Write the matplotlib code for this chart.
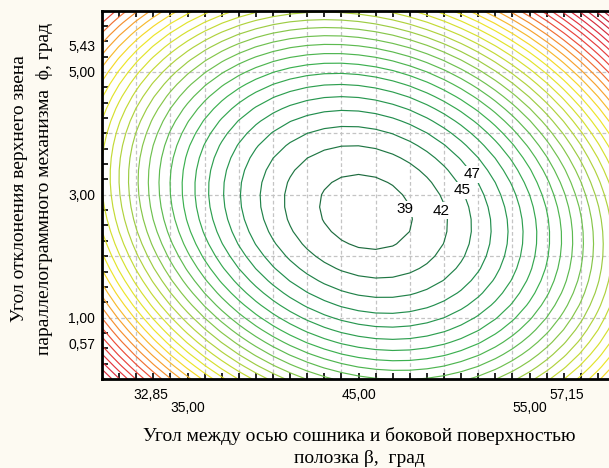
import numpy as np
import matplotlib
matplotlib.use('Agg')
import matplotlib.pyplot as plt
from matplotlib.colors import LinearSegmentedColormap, Normalize
from matplotlib.transforms import blended_transform_factory

# response surface:
# z = z_min + a_beta*(b-b0)^2 + a_phi*(f-f0)^2 + a_cross*(b-b0)*(f-f0)
z_min = 38.0
beta_0 = 46.43
phi_0 = 2.72
a_beta = 0.178
a_phi = 3.5
a_cross = 0.27

beta_lim = [31, 61]
phi_lim = [0, 6]
grid_n = 31

# contour levels (Statistica style: first level + fixed step)
level_first = 39.3
level_step = 2.67
n_levels = 34

# labelled contours and where the labels sit
label_levels = [0, 1, 2, 3]
label_x = [48.72, 50.82, 52.05, 52.64]
label_y = [2.77, 2.74, 3.07, 3.33]

x_tick_vals = [32.85, 35.00, 45.00, 55.00, 57.15]
x_tick_row = [0, 1, 0, 1, 0]
y_tick_vals = [0.57, 1.00, 3.00, 5.00, 5.43]

x_grid = [33, 35, 37, 39, 41, 43, 45, 47, 49, 51, 53, 55, 57, 59]
y_grid = [1, 2, 3, 4, 5]

xlabel = 'Угол между осью сошника и боковой поверхностью\nполозка β,  град'
ylabel = 'Угол отклонения верхнего звена\nпараллелограммного механизма  ϕ, град'

# colour of the contour line by its value
color_z = [39, 48, 58, 66, 73, 79, 86, 91, 96, 101, 111, 127.4]
color_hex = ['#1d6b3e', '#239150', '#3cb050', '#70c050', '#aad040', '#d4e030',
             '#f4e828', '#f8b030', '#f58a30', '#ec4a3a', '#e03040', '#b02038']

sans = ['Liberation Sans', 'DejaVu Sans']
serif = ['Liberation Serif', 'DejaVu Serif']


def fmt(v):
    return f'{v:.2f}'.replace('.', ',')


beta = np.linspace(beta_lim[0], beta_lim[1], grid_n)
phi = np.linspace(phi_lim[0], phi_lim[1], grid_n)
B, F = np.meshgrid(beta, phi)
db = B - beta_0
df = F - phi_0
Z = z_min + a_beta * db ** 2 + a_phi * df ** 2 + a_cross * db * df

levels = level_first + level_step * np.arange(n_levels)

zlo, zhi = levels[0], levels[-1]
pos = np.clip((np.array(color_z) - zlo) / (zhi - zlo), 0, 1)
pos[0], pos[-1] = 0.0, 1.0
cmap = LinearSegmentedColormap.from_list('gyr', list(zip(pos, color_hex)))

fig = plt.figure(figsize=(6.09, 4.68), dpi=100, facecolor='#fdfaf2')
ax = fig.add_axes([102 / 609, 89 / 468, 513 / 609, 368.5 / 468])
ax.set_facecolor('white')

for gx in x_grid:
    ax.axvline(gx, color='#c4c4c4', lw=0.9, ls=(0, (3, 2)), zorder=0.5)
for gy in y_grid:
    ax.axhline(gy, color='#c4c4c4', lw=0.9, ls=(0, (3, 2)), zorder=0.5)

cs = ax.contour(B, F, Z, levels=levels, cmap=cmap,
                norm=Normalize(zlo, zhi), linewidths=0.85, zorder=2)

for i, lx, ly in zip(label_levels, label_x, label_y):
    ax.text(lx, ly, f'{levels[i]:.0f}', ha='center', va='center', fontsize=11,
            family=sans, zorder=3,
            bbox=dict(facecolor='white', edgecolor='none', pad=1.0))

ax.set_xlim(beta_lim)
ax.set_ylim(phi_lim)

# tick marks: every 1 deg in beta, every 0.25 in phi, pointing inwards
ax.set_xticks(np.arange(32, 61), minor=True)
ax.set_yticks(np.arange(0.25, 6, 0.25), minor=True)
ax.set_xticks([])
ax.set_yticks(y_tick_vals, labels=[fmt(v) for v in y_tick_vals])
ax.tick_params(which='minor', direction='in', length=4, width=1.2, color='black',
               top=True, bottom=True, left=True, right=False)
ax.tick_params(which='major', axis='y', length=0, pad=5, labelsize=10)
for t in ax.get_yticklabels():
    t.set_family(sans)

trans = blended_transform_factory(ax.transData, ax.transAxes)
for v, row in zip(x_tick_vals, x_tick_row):
    ax.text(v, -0.025 - 0.036 * row, fmt(v), transform=trans, ha='left', va='top',
            fontsize=10, family=sans)

for side in ['left', 'bottom', 'top']:
    ax.spines[side].set_linewidth(2)
    ax.spines[side].set_color('black')
ax.spines['right'].set_visible(False)

fig.text(359 / 609, 1 - 447 / 468, xlabel, ha='center', va='center',
         fontsize=14, family=serif, linespacing=1.32)
fig.text(32 / 609, 1 - 189 / 468, ylabel, ha='center', va='center', rotation=90,
         fontsize=14, family=serif, linespacing=1.6, multialignment='center')

fig.savefig('out.png', dpi=100, facecolor=fig.get_facecolor())
